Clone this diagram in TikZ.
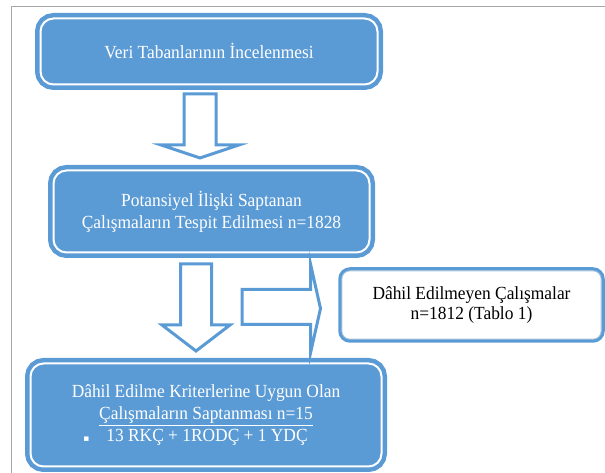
\documentclass[tikz,border=0pt]{standalone}
\usepackage{fontspec}
\setmainfont[FakeStretch=0.94]{Liberation Serif}
\newfontfamily\dv{DejaVu Sans}
\usetikzlibrary{calc}
\definecolor{bl}{HTML}{5B9BD5}
\definecolor{lightedge}{HTML}{A9C4DE}
\definecolor{framegray}{HTML}{A6A6A6}
\begin{document}
\begin{tikzpicture}[x=1pt,y=1pt,
  bluebox/.style={draw=bl, fill=bl, line width=4.5pt, double=white, double distance=2pt,
    rounded corners=13pt, inner sep=0pt, text=white, align=center,
    font=\fontsize{18.5}{22}\selectfont},
  whitebox/.style={draw=bl, fill=white, line width=3.5pt, rounded corners=10pt, inner sep=0pt,
    text=black, align=center, font=\fontsize{18.5}{20}\selectfont},
  hollow/.style={draw=bl, fill=white, line width=3pt, line join=miter}]
\useasboundingbox (0,0) rectangle (605,473);
\draw[framegray, line width=1pt] (605,466) -- (11,466) -- (11,0);

\node[bluebox, minimum width=337pt, minimum height=66pt] (b1) at (209,421.5)
  {Veri Tabanlarının İncelenmesi};
\node[bluebox, minimum width=316pt, minimum height=82pt] (b2) at (211.5,261.5)
  {Potansiyel  İlişki  Saptanan\\Çalışmaların  Tespit Edilmesi  n=1828};
\node[whitebox, minimum width=263pt, minimum height=72pt] (b3) at (471.5,168)
  {Dâhil  Edilmeyen  Çalışmalar\\n=1812  (Tablo 1)};
\draw[lightedge, line width=0.9pt, rounded corners=8pt]
  ($(b3.south west)+(3.6,3.6)$) rectangle ($(b3.north east)+(-3.6,-3.6)$);
\node[bluebox, minimum width=351pt, minimum height=103pt] (b4) at (206,58)
  {Dâhil  Edilme  Kriterlerine  Uygun  Olan\\
   \underline{Çalışmaların  Saptanması n=15}\\
   \hspace*{-21pt}{\dv\fontsize{9}{9}\selectfont ▪}\hspace{17pt}13 RKÇ + 1RODÇ + 1 YDÇ};

% down arrow 1
\draw[hollow] ($(b1.south)+(-25,-7.25)$) -- ++(0,-51) -- ++(-23,0) -- ++(39,-13)
  -- ++(39,13) -- ++(-23,0) -- ++(0,51) -- cycle;
% down arrow 2
\draw[hollow] ($(b2.south)+(-31,-9.25)$) -- ++(0,-61) -- ++(-18.5,0) -- ++(34,-26)
  -- ++(34,26) -- ++(-18.5,0) -- ++(0,61) -- cycle;
% right arrow
\draw[hollow] ($(b3.west)+(-96.25,15.5)$) -- ++(68.5,0) -- ++(0,25.5) -- ++(10,-44.5)
  -- ++(-10,-44.5) -- ++(0,28.5) -- ++(-68.5,0) -- cycle;
\end{tikzpicture}
\end{document}
